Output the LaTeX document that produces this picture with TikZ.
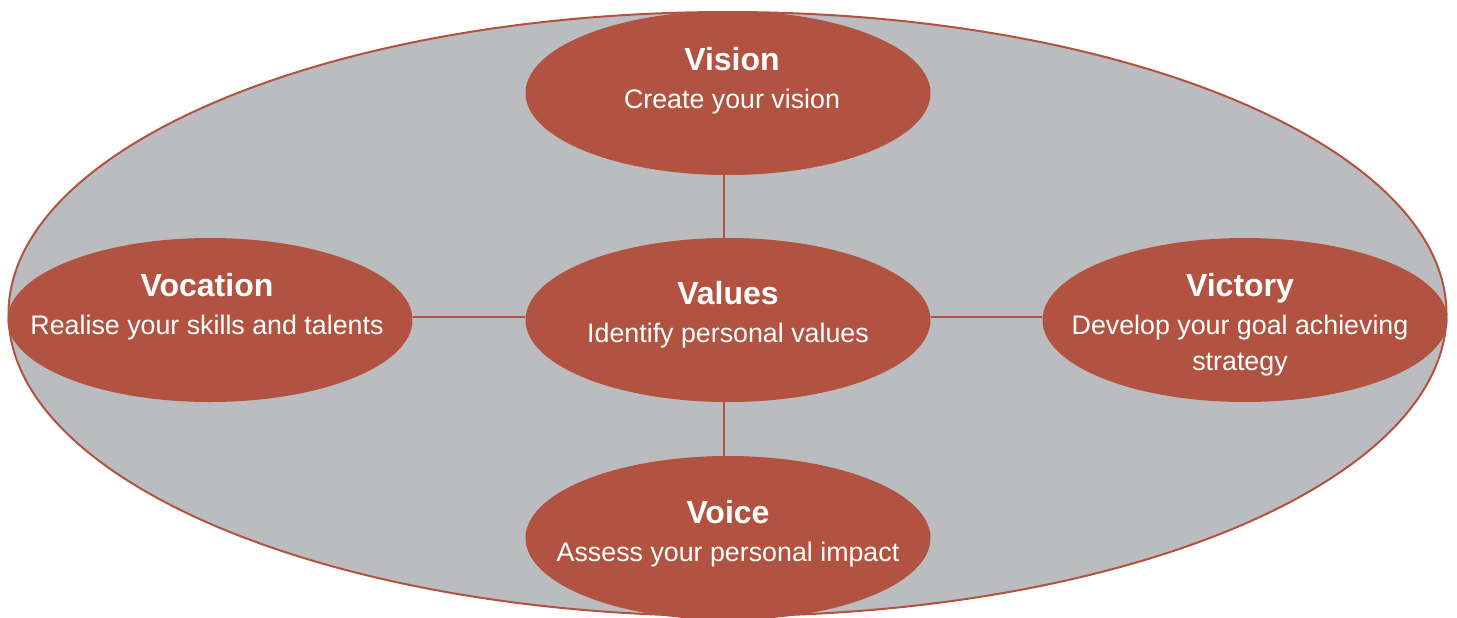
\documentclass[tikz,border=0pt]{standalone}
\usepackage{fontspec}
\setmainfont{Liberation Sans}
\usepackage{tikz}
\usetikzlibrary{shapes.geometric,positioning,calc}
\definecolor{brick}{HTML}{B25341}
\definecolor{slate}{HTML}{BBBCBF}
\tikzset{
  frame/.style={ellipse,draw=brick,line width=1pt,fill=slate,minimum width=719pt,minimum height=302pt,inner sep=0pt},
  bubble/.style={ellipse,fill=brick,minimum width=202.5pt,minimum height=82pt,inner sep=0pt},
  caption/.style={align=center,text=white,font=\fontsize{13.4}{18}\selectfont},
  link/.style={draw=brick,line width=0.8pt}
}
\newcommand{\heading}[1]{{\fontsize{16}{18}\selectfont\bfseries #1}}
\begin{document}
\begin{tikzpicture}[x=0.5pt,y=-0.5pt]
            \useasboundingbox (0,0) rectangle (1457,617);
            \node[frame] (outer) at (727.5,314) {};
            \node[bubble] (vision) at (728,93) {};
            \node[bubble] (values) at (728,320) {};
            \node[bubble] (vocation) at (210,320) {};
            \node[bubble] (victory) at (1245,320) {};
            \node[bubble] (voice) at (728,538) {};
            \draw[link] ([xshift=-2pt]vision.south) -- ([xshift=-2pt]values.north);
            \draw[link] ([xshift=-2pt]values.south) -- ([xshift=-2pt]voice.north);
            \draw[link] ([yshift=1.5pt]vocation.east) -- ([yshift=1.5pt]values.west);
            \draw[link] ([yshift=1.5pt]values.east) -- ([yshift=1.5pt]victory.west);
            \node[caption] (visiontext) at (732,81) {\heading{Vision}\\[1pt]Create your vision};
            \node[caption] (valuestext) at (728,315) {\heading{Values}\\[1pt]Identify personal values};
            \node[caption] (vocationtext) at (207,307) {\heading{Vocation}\\[1pt]Realise your skills and talents};
            \node[caption] (victorytext) at (1240,325) {\heading{Victory}\\[1pt]Develop your goal achieving\\strategy};
            \node[caption] (voicetext) at (728,534) {\heading{Voice}\\[1pt]Assess your personal impact};
          \end{tikzpicture}
\end{document}
